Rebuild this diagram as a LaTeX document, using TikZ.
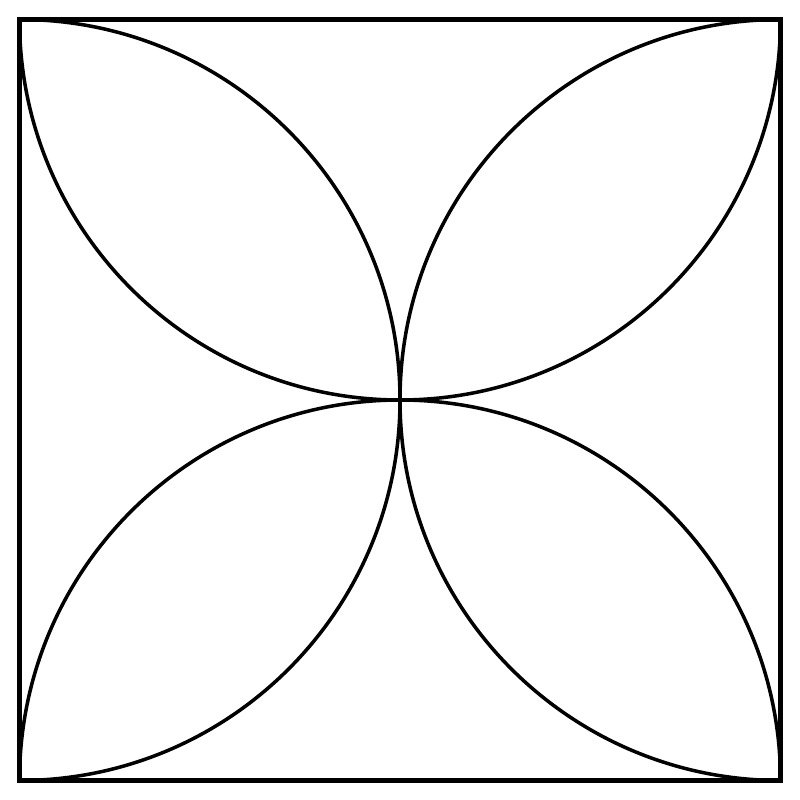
\documentclass[tikz,border=0pt]{standalone}
\usetikzlibrary{positioning}
\tikzset{
  frame/.style = {draw, line width=1.3pt},
  petal/.style = {draw, line width=1pt},
}
\newcommand{\halfside}{3.805}

\begin{document}
\begin{tikzpicture}
    \useasboundingbox (0,0) rectangle (8,8);
    \coordinate (mid) at (4,4);
    \coordinate (tl) at (4-\halfside,4+\halfside);
    \coordinate (tr) at (4+\halfside,4+\halfside);
    \coordinate (bl) at (4-\halfside,4-\halfside);
    \coordinate (br) at (4+\halfside,4-\halfside);
    % the four half circles, one on each side
    \draw [petal] (tl) arc[start angle=180, end angle=360, radius=\halfside];
    \draw [petal] (bl) arc[start angle=180, end angle=0, radius=\halfside];
    \draw [petal] (tl) arc[start angle=90, end angle=-90, radius=\halfside];
    \draw [petal] (tr) arc[start angle=90, end angle=270, radius=\halfside];
    \draw [frame] (bl) rectangle (tr);
\end{tikzpicture}
\end{document}
